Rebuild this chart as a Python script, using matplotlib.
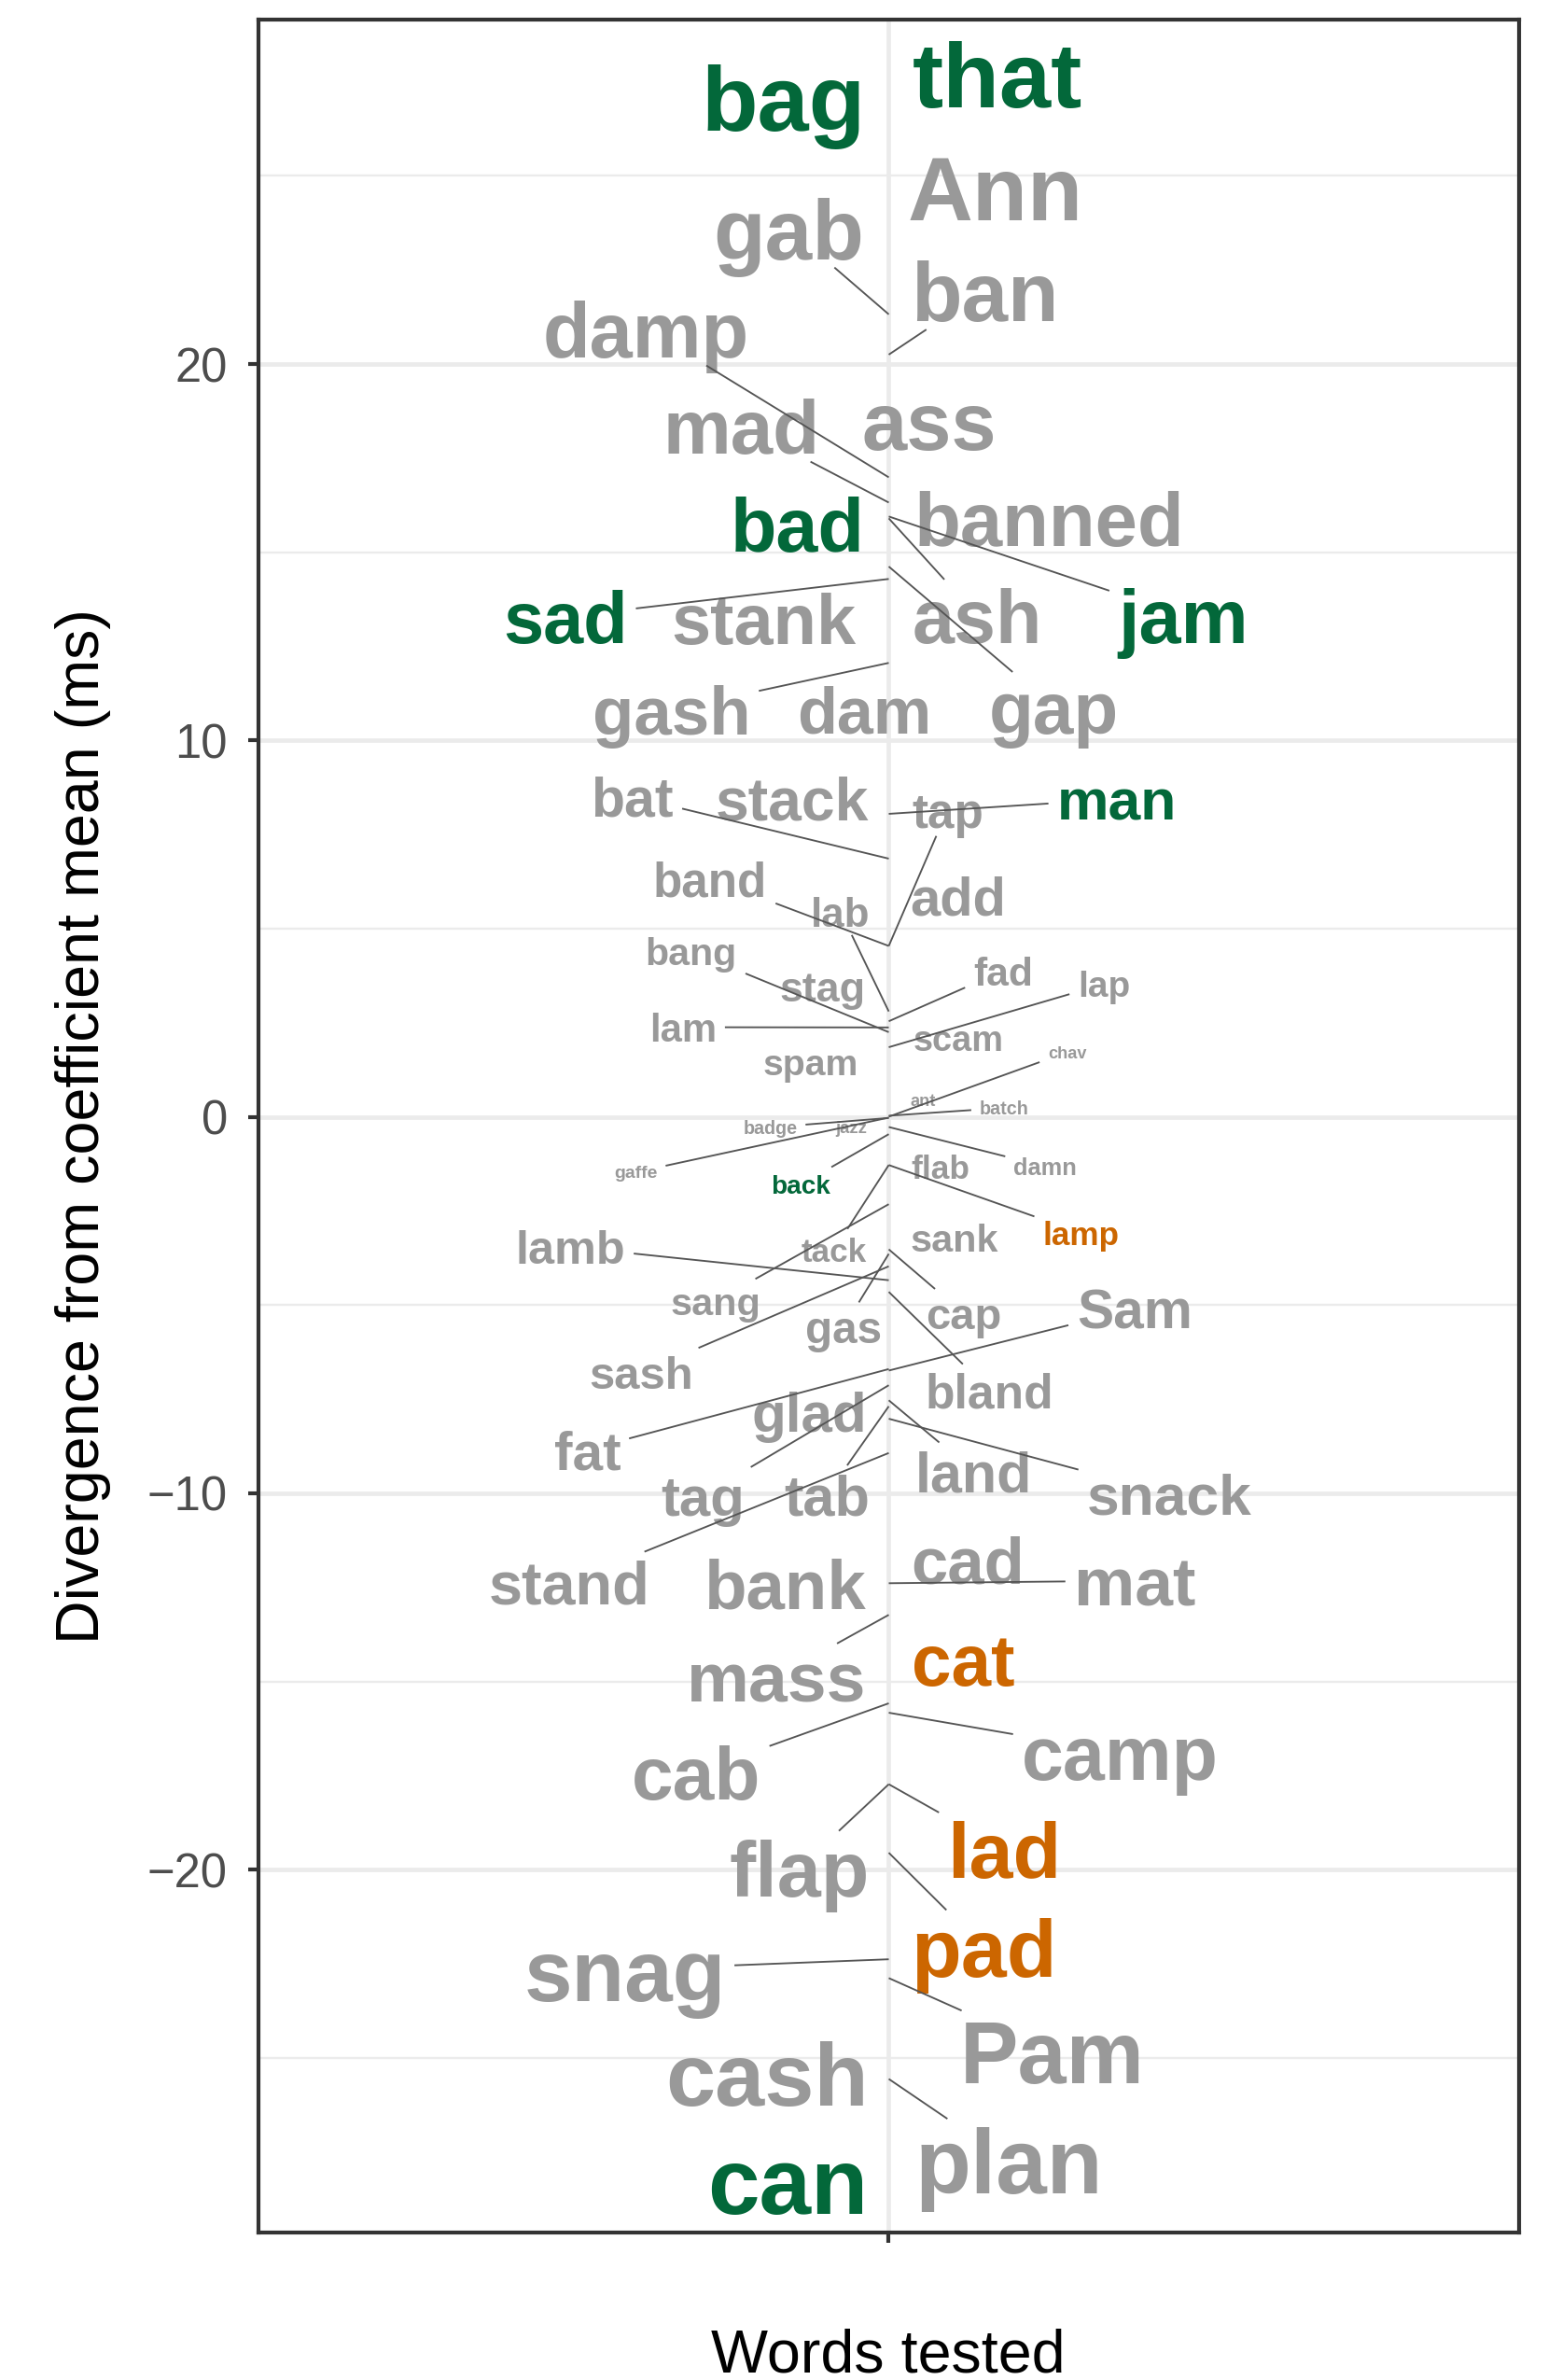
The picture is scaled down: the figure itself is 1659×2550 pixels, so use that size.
import numpy as np
import matplotlib

matplotlib.use("Agg")
from matplotlib import pyplot as plt

plt.rcParams["font.family"] = ["Liberation Sans", "DejaVu Sans"]

# divergence of each tested word from the coefficient mean (ms)
WORDS = [
    "that", "bag", "Ann", "gab", "ban", "damp", "mad", "ass", "bad", "banned",
    "sad", "stank", "ash", "jam", "gash", "dam", "gap", "bat", "stack", "tap",
    "man", "band", "add", "lab", "bang", "stag", "fad", "lap", "lam", "scam",
    "spam", "chav", "ant", "batch", "badge", "jazz", "gaffe", "damn", "back", "flab",
    "lamp", "tack", "sank", "lamb", "sang", "cap", "gas", "sash", "Sam", "bland",
    "glad", "fat", "tag", "tab", "land", "snack", "stand", "cad", "mat", "bank",
    "mass", "cat", "cab", "camp", "flap", "lad", "pad", "snag", "Pam", "cash",
    "plan", "can",
]
DIVERGENCE = [
    26.5, 26.3, 24.8, 21.32, 20.25, 16.99, 16.32, 19.0, 15.9, 16.2,
    14.29, 13.5, 15.9, 15.95, 12.06, 11.0, 14.62, 6.86, 8.7, 4.54,
    8.05, 4.54, 6.5, 2.8, 2.25, 3.0, 2.54, 1.85, 2.375, 1.7,
    1.9, 0.005, 0.005, 0.03, -0.03, -0.01, -0.02, -0.27, -0.46, -1.3,
    -1.28, -1.28, -2.3, -4.34, -2.32, -3.52, -3.64, -3.97, -6.74, -4.65,
    -7.2, -6.7, -7.13, -7.69, -7.53, -8.02, -8.93, -11.2, -12.39, -12.9,
    -13.23, -13.8, -15.58, -15.83, -17.73, -17.73, -19.55, -22.38, -22.88, -24.0,
    -25.56, -26.85,
]
GROUP = [
    "A", "A", "", "", "", "", "", "", "A", "",
    "A", "", "", "A", "", "", "", "", "", "",
    "A", "", "", "", "", "", "", "", "", "",
    "", "", "", "", "", "", "", "", "A", "",
    "B", "", "", "", "", "", "", "", "", "",
    "", "", "", "", "", "", "", "", "", "",
    "", "B", "", "", "", "B", "B", "", "", "",
    "", "A",
]

COLOURS = {"A": "#03683A", "B": "#CC6600", "": "#999999"}

# repelled label placement: word -> (x, y, draw segment back to the point)
LABEL_AT = {
    "that": (0.103, 27.45, False), "bag": (-0.100, 26.82, False),
    "Ann": (0.101, 24.45, False), "gab": (-0.095, 23.37, True),
    "ban": (0.091, 21.71, True), "damp": (-0.231, 20.73, True),
    "mad": (-0.140, 18.15, True), "ass": (0.038, 18.27, False),
    "bad": (-0.087, 15.54, False), "banned": (0.153, 15.68, False),
    "sad": (-0.308, 13.09, True), "stank": (-0.119, 13.04, False),
    "ash": (0.084, 13.11, True), "jam": (0.280, 13.11, True),
    "gash": (-0.207, 10.63, True), "dam": (-0.023, 10.65, False),
    "gap": (0.157, 10.69, True), "bat": (-0.244, 8.36, True),
    "stack": (-0.092, 8.32, False), "tap": (0.056, 8.02, True),
    "man": (0.217, 8.28, True), "band": (-0.170, 6.19, True),
    "add": (0.066, 5.74, False), "lab": (-0.046, 5.34, True),
    "bang": (-0.188, 4.30, True), "stag": (-0.063, 3.34, False),
    "fad": (0.109, 3.77, True), "lap": (0.205, 3.43, True),
    "lam": (-0.196, 2.27, True), "scam": (0.066, 2.01, False),
    "spam": (-0.074, 1.36, False), "chav": (0.170, 1.67, True),
    "ant": (0.033, 0.39, False), "batch": (0.110, 0.19, True),
    "badge": (-0.113, -0.33, True), "jazz": (-0.036, -0.32, False),
    "gaffe": (-0.241, -1.52, True), "damn": (0.149, -1.38, True),
    "back": (-0.084, -1.88, True), "flab": (0.049, -1.42, False),
    "lamp": (0.183, -3.17, True), "tack": (-0.052, -3.61, True),
    "sank": (0.062, -3.31, False), "lamb": (-0.303, -3.58, True),
    "sang": (-0.165, -5.00, True), "cap": (0.071, -5.34, True),
    "gas": (-0.043, -5.71, True), "sash": (-0.236, -6.92, True),
    "Sam": (0.234, -5.24, True), "bland": (0.096, -7.40, True),
    "glad": (-0.076, -7.97, False), "fat": (-0.287, -8.99, True),
    "tag": (-0.177, -10.21, True), "tab": (-0.059, -10.19, True),
    "land": (0.081, -9.58, True), "snack": (0.267, -10.18, True),
    "stand": (-0.304, -12.52, True), "cad": (0.075, -11.96, False),
    "mat": (0.234, -12.51, True), "bank": (-0.099, -12.58, False),
    "mass": (-0.107, -15.07, True), "cat": (0.071, -14.59, False),
    "cab": (-0.183, -17.62, True), "camp": (0.220, -17.10, True),
    "flap": (-0.085, -20.16, True), "lad": (0.110, -19.67, True),
    "pad": (0.091, -22.30, True), "snag": (-0.251, -22.89, True),
    "Pam": (0.156, -25.07, True), "cash": (-0.116, -25.65, False),
    "plan": (0.114, -27.97, True), "can": (-0.096, -28.50, False),
}


def label_size(values: np.ndarray, low: float = 4.1, high: float = 24.0) -> np.ndarray:
    # area-style size scale on |divergence|
    mag = np.abs(values)
    return low + (high - low) * np.sqrt(mag / mag.max())


def draw_segments(fig, ax, labelled, pad_px: float = 9.0):
    # join each point to the edge of its label box (baseline to cap height)
    fig.canvas.draw()
    renderer = fig.canvas.get_renderer()
    to_data = ax.transData.inverted()

    for text, val in labelled:
        bb = text.get_window_extent(renderer)
        _, _, lp_d = renderer.get_text_width_height_descent(
            "lp", text.get_fontproperties(), ismath=False
        )
        x0, x1 = bb.x0 - pad_px, bb.x1 + pad_px
        y0, y1 = bb.y0 + lp_d - pad_px, bb.y1 + pad_px
        cx, cy = (x0 + x1) / 2, (y0 + y1) / 2
        px, py = ax.transData.transform((0, val))
        dx, dy = px - cx, py - cy

        sx = (x1 - x0) / 2 / abs(dx) if dx else np.inf
        sy = (y1 - y0) / 2 / abs(dy) if dy else np.inf
        s = min(sx, sy)
        if s >= 1:
            continue
        ex, ey = to_data.transform((cx + dx * s, cy + dy * s))
        ax.plot([0, ex], [val, ey], color="#555555", lw=0.45, zorder=4,
                solid_capstyle="butt")


def plot_words(out_path: str = "out.png"):
    values = np.array(DIVERGENCE)
    sizes = label_size(values)

    fig = plt.figure(figsize=(1659 / 300, 2550 / 300), dpi=300)
    ax = fig.add_axes([0.16697, 0.06196, 0.81434, 0.9298])
    ax.set_xlim(-0.6, 0.6)
    ax.set_ylim(-29.64, 29.15)

    for y in [-20, -10, 0, 10, 20]:
        ax.axhline(y, color="#EBEBEB", lw=1.13, zorder=0)
    for y in [-25, -15, -5, 5, 15, 25]:
        ax.axhline(y, color="#EBEBEB", lw=0.56, zorder=0)
    ax.axvline(0, color="#EBEBEB", lw=1.13, zorder=0)

    for spine in ax.spines.values():
        spine.set_color("#333333")
        spine.set_linewidth(1.0)

    ax.set_yticks([-20, -10, 0, 10, 20])
    ax.set_xticks([0])
    ax.set_xticklabels([""])
    ax.tick_params(length=2.76, width=1.0, color="#333333",
                   labelcolor="#4D4D4D", labelsize=12.2)
    ax.tick_params(axis="y", pad=5.2)

    labelled = []
    for word, val, grp, size in zip(WORDS, values, GROUP, sizes):
        lx, ly, seg = LABEL_AT[word]
        t = ax.text(lx, ly, word, ha="center", va="center", fontsize=size,
                    fontweight="bold", color=COLOURS[grp], zorder=3)
        if seg:
            labelled.append((t, val))

    fig.text(89 / 1659, 1 - 1206.5 / 2550, "Divergence from coefficient mean (ms)",
             rotation=90, ha="center", va="center", fontsize=15.5)
    fig.text(952 / 1659, 1 - 2542 / 2550, "Words tested", ha="center",
             va="baseline", fontsize=15.5)

    draw_segments(fig, ax, labelled)

    fig.savefig(out_path, dpi=300)
    plt.close(fig)


if __name__ == "__main__":
    plot_words()
